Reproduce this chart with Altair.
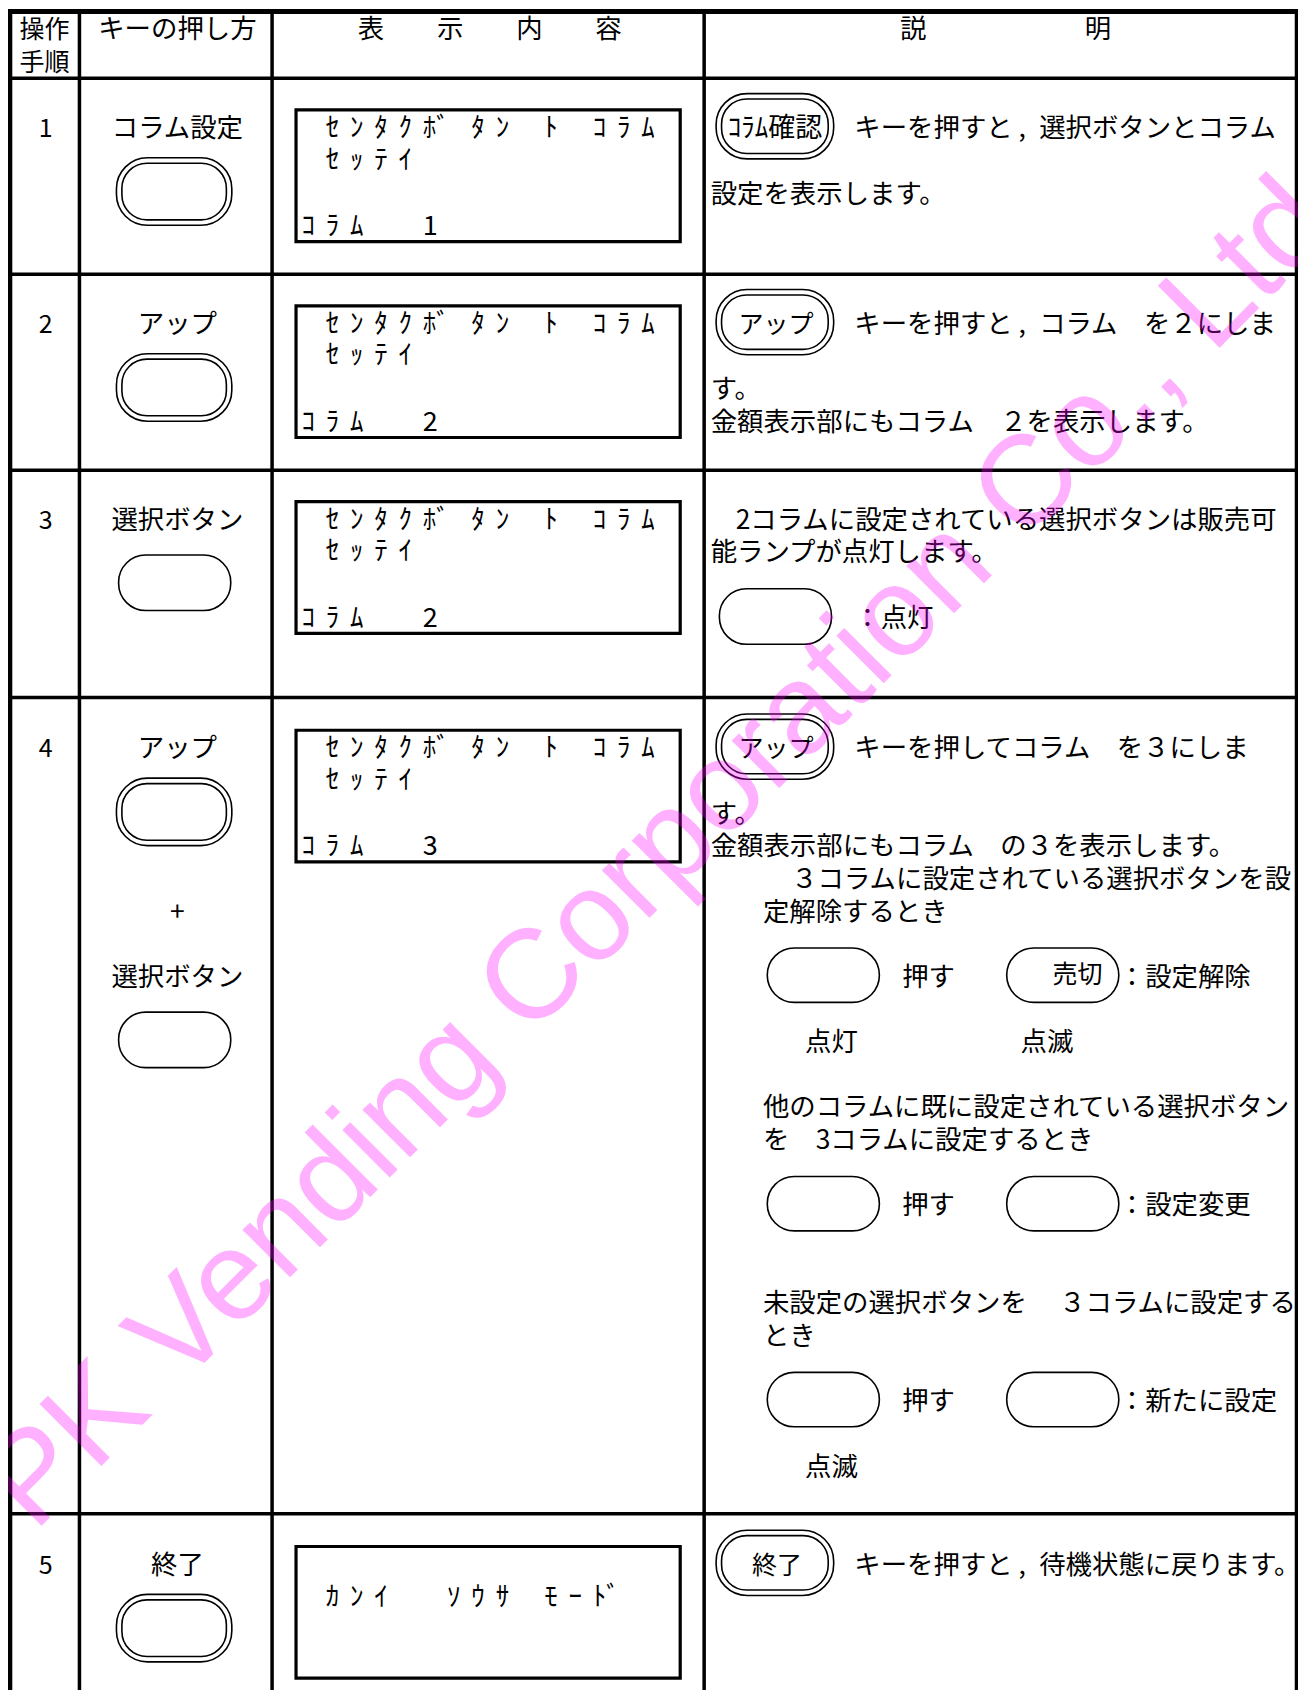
import altair as alt
import pandas as pd

# Coordinates below; the scales map them to the page.
S = 1306 / 1200.0
W, H = 1290, 1682
OFF = 8 / S

FONT = "Noto Sans CJK JP"
BODY = 26.4
TDY = 1.5  # small vertical correction for text baselines

# ---------------- table grid ----------------
col_x = [9, 73, 250, 647, 1191.5]
col_sw = [5.0, 3.5, 3.5, 3.5, 4.0]
row_y = [10.5, 72, 252, 432, 641, 1391]
row_sw = [5.0, 3.5, 3.5, 3.5, 3.5, 3.5]
table_top, table_bottom = 10.5, 1580

# ---------------- header ----------------
header_text = ["操作", "手順", "キーの押し方", "表　　示　　内　　容", "説　　　　　　明"]
header_x = [41, 41, 163, 450, 924]
header_y = [26, 56, 26, 26, 26]
header_fs = [25, 25, BODY, BODY, BODY]

# ---------------- column 1 / 2 ----------------
step_no = ["1", "2", "3", "4", "5"]
step_y = [117, 297, 477, 687, 1437]
key_label = ["コラム設定", "アップ", "選択ボタン", "アップ", "+", "選択ボタン", "終了"]
key_label_y = [117, 297, 477, 687, 837, 897, 1437]

# ---------------- buttons ----------------
dbl_x1 = [107, 107, 107, 107, 658, 658, 658, 658]
dbl_x2 = [213, 213, 213, 213, 766, 766, 766, 766]
dbl_y1 = [145, 325, 715, 1465, 86, 266, 656, 1406]
dbl_y2 = [207, 387, 777, 1527, 146, 326, 716, 1466]
inset = 5

sgl_x1 = [109, 109, 661, 705, 925, 705, 925, 705, 925]
sgl_x2 = [212, 212, 764, 808, 1028, 808, 1028, 808, 1028]
sgl_y1 = [510, 930, 541, 871, 871, 1081, 1081, 1261, 1261]
sgl_y2 = [561, 981, 592, 921, 921, 1131, 1131, 1311, 1311]

btn_text = ["ｺﾗﾑ確認", "アップ", "アップ", "終了", "売切"]
btn_text_x = [712, 713, 713, 714, 990]
btn_text_y = [117, 297, 687, 1437, 894]
btn_text_fs = [27, 25, 25, 25, 25]

# ---------------- LCD displays ----------------
lcd_x1, lcd_x2 = 272, 625
lcd_top = [101, 281, 461, 671, 1421]
lcd_h = 121
lcd_lines = [
    [" ｾﾝﾀｸﾎﾞﾀﾝ ﾄ ｺﾗﾑ", " ｾｯﾃｲ", "ｺﾗﾑ  1"],
    [" ｾﾝﾀｸﾎﾞﾀﾝ ﾄ ｺﾗﾑ", " ｾｯﾃｲ", "ｺﾗﾑ  2"],
    [" ｾﾝﾀｸﾎﾞﾀﾝ ﾄ ｺﾗﾑ", " ｾｯﾃｲ", "ｺﾗﾑ  2"],
    [" ｾﾝﾀｸﾎﾞﾀﾝ ﾄ ｺﾗﾑ", " ｾｯﾃｲ", "ｺﾗﾑ  3"],
    [" ｶﾝｲ  ｿｳｻ ﾓｰﾄﾞ"],
]
lcd_line_dy = [[16, 45, 106]] * 4 + [[46]]
lcd_cell0, lcd_pitch = 277, 22.3

# ---------------- explanation column ----------------
expl_text = [
    "キーを押すと ,\u2002選択ボタンとコラム",
    "設定を表示します。",
    "キーを押すと ,\u2002コラム　を２にしま",
    "す。",
    "金額表示部にもコラム　２を表示します。",
    "2コラムに設定されている選択ボタンは販売可",
    "能ランプが点灯します。",
    "：点灯",
    "キーを押してコラム　を３にしま",
    "す。",
    "金額表示部にもコラム　の３を表示します。",
    "３コラムに設定されている選択ボタンを設",
    "定解除するとき",
    "押す",
    "：設定解除",
    "他のコラムに既に設定されている選択ボタン",
    "を　3コラムに設定するとき",
    "押す",
    "：設定変更",
    "未設定の選択ボタンを　 ３コラムに設定する",
    "とき",
    "押す",
    "：新たに設定",
    "キーを押すと ,\u2002待機状態に戻ります。",
]
expl_x = [785, 653, 785, 653, 653, 676, 653, 785, 785, 653, 653, 727, 701, 829, 1028,
          701, 701, 829, 1028, 701, 701, 829, 1028, 785]
expl_y = [117, 178, 297, 357, 387, 477, 507, 567, 687, 747, 777, 807, 837, 897, 897,
          1017, 1047, 1107, 1107, 1197, 1227, 1287, 1287, 1437]

lamp_text = ["点灯", "点滅", "点滅"]
lamp_x = [764, 962, 764]
lamp_y = [957, 957, 1347]

# ---------------- watermark ----------------
wm_text = "PK Vending Corporation Co., Ltd"
wm_x, wm_y = 630, 810

# ================= build tables =================
lines = pd.DataFrame(
    [dict(x=c, x2=c, y=table_top, y2=table_bottom, sw=w) for c, w in zip(col_x, col_sw)]
    + [dict(x=col_x[0], x2=col_x[-1], y=r, y2=r, sw=w) for r, w in zip(row_y, row_sw)]
)

center_txt = pd.DataFrame(
    [dict(x=x, y=y, t=t, fs=f) for t, x, y, f in zip(header_text, header_x, header_y, header_fs)]
    + [dict(x=42, y=y, t=t, fs=25) for t, y in zip(step_no, step_y)]
    + [dict(x=163, y=y, t=t, fs=BODY) for t, y in zip(key_label, key_label_y)]
    + [dict(x=x, y=y, t=t, fs=BODY) for t, x, y in zip(lamp_text, lamp_x, lamp_y)]
    + [dict(x=x, y=y, t=t, fs=f) for t, x, y, f in zip(btn_text, btn_text_x, btn_text_y, btn_text_fs)]
)
center_txt["y"] = center_txt["y"] + TDY

left_txt = pd.DataFrame([dict(x=x, y=y + TDY, t=t) for t, x, y in zip(expl_text, expl_x, expl_y)])

dbl_outer = pd.DataFrame(dict(x=dbl_x1, x2=dbl_x2, y=dbl_y1, y2=dbl_y2))
dbl_inner = pd.DataFrame(dict(x=[v + inset for v in dbl_x1], x2=[v - inset for v in dbl_x2],
                              y=[v + inset for v in dbl_y1], y2=[v - inset for v in dbl_y2]))
single = pd.DataFrame(dict(x=sgl_x1, x2=sgl_x2, y=sgl_y1, y2=sgl_y2))

lcd_boxes = pd.DataFrame(dict(x=[lcd_x1] * len(lcd_top), x2=[lcd_x2] * len(lcd_top),
                              y=lcd_top, y2=[t + lcd_h for t in lcd_top]))

lcd_chars = []
for top, lines_, dys in zip(lcd_top, lcd_lines, lcd_line_dy):
    for s, dy in zip(lines_, dys):
        for i, ch in enumerate(s):
            if ch in "ﾞﾟ" and lcd_chars:
                lcd_chars[-1]["t"] += ch
                continue
            if ch == " ":
                continue
            lcd_chars.append(dict(x=lcd_cell0 + i * lcd_pitch, y=top + dy + TDY, t=ch))
lcd_chars = pd.DataFrame(lcd_chars)

wm = pd.DataFrame([dict(x=wm_x, y=wm_y, t=wm_text)])

# ================= scales =================
xs = alt.Scale(domain=[OFF, OFF + W / S], range=[0, W], nice=False, zero=False)
ys = alt.Scale(domain=[OFF, OFF + H / S], range=[0, H], nice=False, zero=False)


def X(f="x"):
    return alt.X(f"{f}:Q", scale=xs, axis=None)


def Y(f="y"):
    return alt.Y(f"{f}:Q", scale=ys, axis=None)


rules = alt.Chart(lines).mark_rule(color="black", strokeCap="square").encode(
    x=X(), x2="x2:Q", y=Y(), y2="y2:Q", strokeWidth=alt.StrokeWidth("sw:Q", scale=None)
)

lcd_layer = alt.Chart(lcd_boxes).mark_rect(fill="white", stroke="black", strokeWidth=3.2).encode(
    x=X(), x2="x2:Q", y=Y(), y2="y2:Q"
)

outer_layer = alt.Chart(dbl_outer).mark_rect(
    fill="white", stroke="black", strokeWidth=1.6, cornerRadius=31
).encode(x=X(), x2="x2:Q", y=Y(), y2="y2:Q")

inner_layer = alt.Chart(dbl_inner).mark_rect(
    fill="white", stroke="black", strokeWidth=1.6, cornerRadius=25
).encode(x=X(), x2="x2:Q", y=Y(), y2="y2:Q")

single_layer = alt.Chart(single).mark_rect(
    fill="white", stroke="black", strokeWidth=1.6, cornerRadius=27
).encode(x=X(), x2="x2:Q", y=Y(), y2="y2:Q")

center_layer = alt.Chart(center_txt).mark_text(
    align="center", baseline="middle", font=FONT, color="black"
).encode(x=X(), y=Y(), text="t:N", size=alt.Size("fs:Q", scale=None))

left_layer = alt.Chart(left_txt).mark_text(
    align="left", baseline="middle", font=FONT, color="black", fontSize=BODY
).encode(x=X(), y=Y(), text="t:N")

lcd_text_layer = alt.Chart(lcd_chars).mark_text(
    align="left", baseline="middle", font=FONT, color="black", fontSize=27
).encode(x=X(), y=Y(), text="t:N")

wm_layer = alt.Chart(wm).mark_text(
    align="center", baseline="alphabetic", font="Liberation Sans", fontSize=127,
    angle=315, color="#FF00FF", opacity=0.3
).encode(x=X(), y=Y(), text="t:N")

chart = alt.layer(
    rules, lcd_layer, outer_layer, inner_layer, single_layer,
    center_layer, left_layer, lcd_text_layer, wm_layer
).properties(
    width=W, height=H, padding=0, autosize=alt.AutoSizeParams(type="none"),
    background="white"
).configure_view(strokeWidth=0)

chart.save("out.html", embed_options={"renderer": "svg", "actions": False})
